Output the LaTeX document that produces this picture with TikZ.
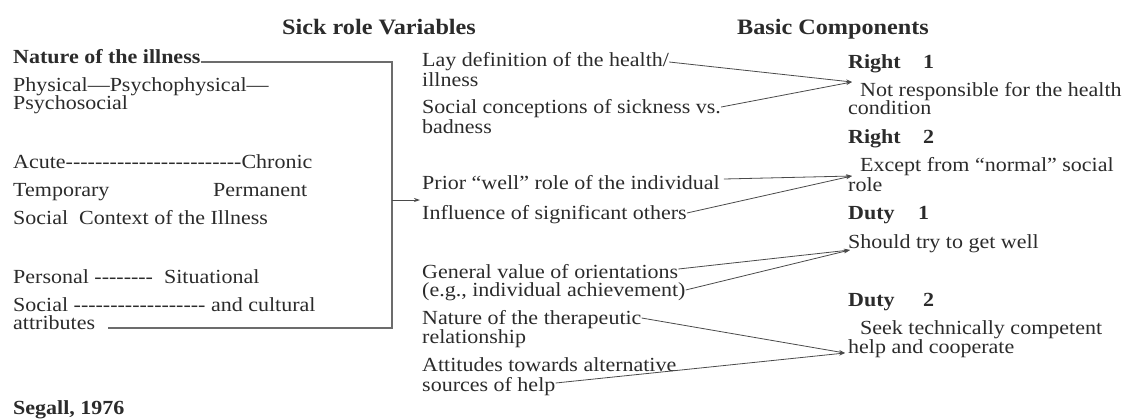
\documentclass[tikz,border=0pt]{standalone}
\usepackage{fontspec}
\setmainfont{Liberation Serif}[Ligatures=TeXOff, FakeStretch=1.1]
\usetikzlibrary{arrows.meta}
\definecolor{txt}{HTML}{2B2B2B}
\definecolor{ln}{HTML}{4A4A4A}
\tikzset{
  lbl/.style={inner sep=0pt, anchor=base west, text=txt, font=\fontsize{20}{18.5}\selectfont},
  blbl/.style={lbl, font=\fontsize{20}{18.5}\selectfont\bfseries},
  head/.style={lbl, font=\fontsize{22}{22}\selectfont\bfseries},
  conn/.style={draw=ln, line width=0.8pt, -{Stealth[length=6pt,width=4pt]}},
  brk/.style={draw=gray!85!black, line width=1.2pt},
}
\begin{document}
\begin{tikzpicture}[x=1pt,y=-1pt]
\useasboundingbox (0,0) rectangle (1133,418);
% headings
\node[head] (h1) at (282,34) {Sick role Variables};
\node[head] (h2) at (737,34) {Basic Components};
% left column
\node[blbl] (nat) at (13,63) {Nature of the illness};
\node[lbl] (phys1) at (13,91) {Physical—Psychophysical—};
\node[lbl] (phys2) at (13,109) {Psychosocial};
\node[lbl] (acute) at (13,168) {Acute------------------------Chronic};
\node[lbl] (temp) at (13,196) {Temporary};
\node[lbl] (perm) at (213,196) {Permanent};
\node[lbl] (socctx) at (13,224) {Social\ \ Context of the Illness};
\node[lbl] (pers) at (13,283) {Personal --------\ \ Situational};
\node[lbl] (soc2) at (13,311) {Social ------------------ and cultural};
\node[lbl] (attr) at (13,329) {attributes};
\node[blbl] (segall) at (13,414) {Segall, 1976};
% middle column
\node[lbl] (lay1) at (422,66) {Lay definition of the health/};
\node[lbl] (lay2) at (422,86) {illness};
\node[lbl] (scs1) at (422,113) {Social conceptions of sickness vs.};
\node[lbl] (scs2) at (422,133) {badness};
\node[lbl] (prior) at (422,189) {Prior “well” role of the individual};
\node[lbl] (infl) at (422,219) {Influence of significant others};
\node[lbl] (gen1) at (422,278) {General value of orientations};
\node[lbl] (gen2) at (422,296) {(e.g., individual achievement)};
\node[lbl] (ther1) at (422,324) {Nature of the therapeutic};
\node[lbl] (ther2) at (422,343) {relationship};
\node[lbl] (att1) at (422,371) {Attitudes towards alternative};
\node[lbl] (att2) at (422,391) {sources of help};
% right column
\node[blbl] (r1) at (848,68) {Right};
\node[blbl] (r1n) at (923,68) {1};
\node[lbl] (nr1) at (860,96) {Not responsible for the health};
\node[lbl] (nr2) at (848,114) {condition};
\node[blbl] (r2) at (848,143) {Right};
\node[blbl] (r2n) at (923,143) {2};
\node[lbl] (ex1) at (860,171) {Except from “normal” social};
\node[lbl] (ex2) at (848,191) {role};
\node[blbl] (d1) at (848,219) {Duty};
\node[blbl] (d1n) at (918,219) {1};
\node[lbl] (stw) at (848,248) {Should try to get well};
\node[blbl] (d2) at (848,306) {Duty};
\node[blbl] (d2n) at (923,306) {2};
\node[lbl] (seek1) at (860,334) {Seek technically competent};
\node[lbl] (seek2) at (848,353) {help and cooperate};
% bracket
\coordinate (bTR) at (392,62);
\coordinate (bBR) at (392,328);
\coordinate (bMid) at (392,200);
\coordinate (bTip) at (420,200);
\draw[brk] ([yshift=1pt]nat.base east) -- (bTR) -- (bBR) -- ([xshift=13pt,yshift=1pt]attr.base east);
\draw[conn] (bMid) -- (bTip);
% arrow tips
\coordinate (t1) at (852,82);
\coordinate (t2) at (852,176);
\coordinate (t3) at (850,250);
\coordinate (t4) at (845,353);
\draw[conn] ([yshift=4pt]lay1.base east) -- (t1);
\draw[conn] ([yshift=6pt]scs1.base east) -- (t1);
\draw[conn] ([xshift=4pt,yshift=10pt]prior.base east) -- (t2);
\draw[conn] ([yshift=6pt]infl.base east) -- (t2);
\draw[conn] ([yshift=9pt]gen1.base east) -- (t3);
\draw[conn] ([yshift=6pt]gen2.base east) -- (t3);
\draw[conn] ([yshift=6pt]ther1.base east) -- (t4);
\draw[conn] ([yshift=8pt]att2.base east) -- (t4);
\end{tikzpicture}
\end{document}
